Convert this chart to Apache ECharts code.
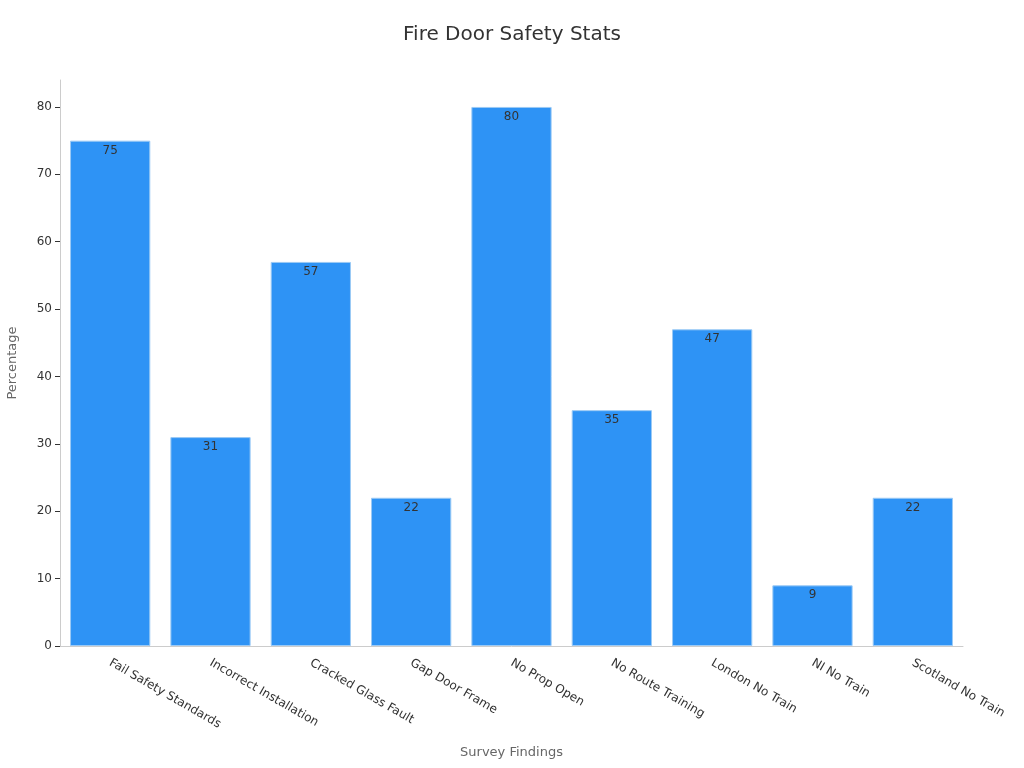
<!DOCTYPE html>
<html>
<head>
<meta charset="utf-8">
<script src="https://cdn.jsdelivr.net/npm/echarts@6/dist/echarts.min.js"></script>
<style>
  html, body { margin: 0; padding: 0; background: #fff; }
  #main { width: 1024px; height: 768px; }
</style>
</head>
<body>
<div id="main"></div>
<script>
var categories = ['Fail Safety Standards', 'Incorrect Installation', 'Cracked Glass Fault', 'Gap Door Frame',
    'No Prop Open', 'No Route Training', 'London No Train', 'NI No Train', 'Scotland No Train'];
var percentages = [75, 31, 57, 22, 80, 35, 47, 9, 22];
var yTicks = [0, 10, 20, 30, 40, 50, 60, 70, 80];

var myChart = echarts.init(document.getElementById('main'));

myChart.setOption({
    textStyle: { fontFamily: 'DejaVu Sans' },
    title: {
        text: 'Fire Door Safety Stats',
        left: 'center',
        top: 20,
        textStyle: { fontSize: 20, fontWeight: 'normal', color: '#333', fontFamily: 'DejaVu Sans' }
    },
    grid: { left: 60, right: 61, top: 80, bottom: 122, outerBoundsMode: 'none' },
    xAxis: {
        type: 'category',
        data: categories,
        name: 'Survey Findings',
        nameLocation: 'middle',
        nameGap: 100,
        nameTextStyle: { color: '#666', fontSize: 13 },
        axisLine: { lineStyle: { color: '#ccc' } },
        axisTick: { alignWithLabel: true, lineStyle: { color: '#666' } },
        axisLabel: { rotate: -30, color: '#333', fontSize: 12, interval: 0, margin: 16 }
    },
    yAxis: {
        type: 'value',
        min: 0,
        max: 84,
        name: 'Percentage',
        nameLocation: 'middle',
        nameGap: 41,
        nameTextStyle: { color: '#666', fontSize: 13 },
        splitLine: { show: false },
        axisLine: { show: true, lineStyle: { color: '#ccc' } },
        axisTick: { show: true, customValues: yTicks, lineStyle: { color: '#333' } },
        axisLabel: { customValues: yTicks, color: '#333', fontSize: 12 }
    },
    series: [{
        type: 'bar',
        data: percentages,
        barWidth: '80%',
        itemStyle: { color: '#2E93F5', borderColor: '#9ccaf5', borderWidth: 1 },
        label: { show: true, position: 'insideTop', color: '#333', fontSize: 12, distance: 4 }
    }]
});
</script>
</body>
</html>
